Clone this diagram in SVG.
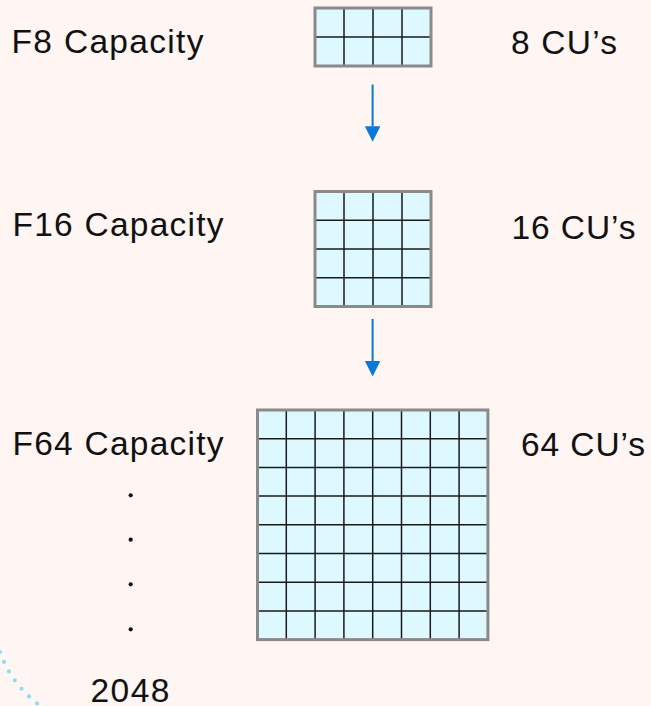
<svg xmlns="http://www.w3.org/2000/svg" width="651" height="706" viewBox="0 0 651 706">
  <style>
    .lbl { font-family: "Liberation Sans", Arial, sans-serif; font-size: 33.5px; fill: #111; }
    .cell { fill: #ddf9ff; }
    .inner { stroke: #1a1a1a; stroke-width: 1.5; fill: none; }
    .frame { stroke: #8a8a8a; stroke-width: 3; fill: none; }
    .arrow { stroke: #0a78d4; stroke-width: 2; fill: none; }
    .dot { fill: #111; }
  </style>
  <defs>
    <marker id="head" markerUnits="userSpaceOnUse" markerWidth="16" markerHeight="16" refX="0" refY="7.75" orient="auto">
      <path d="M0,0 L15.5,7.75 L0,15.5 z" fill="#0a78d4"/>
    </marker>
  </defs>

  <rect width="651" height="706" fill="#fff5f2"/>

  <!-- decorative dotted arc, bottom-left corner -->
  <path d="M 0 652 A 112 112 0 0 0 67 720" fill="none" stroke="#8fdcf2" stroke-width="4.2" stroke-linecap="round" stroke-dasharray="0 10.7"/>

  <!-- F8: 4 x 2 units -->
  <g id="f8">
    <text class="lbl" x="11.5" y="53" textLength="192" lengthAdjust="spacing">F8 Capacity</text>
    <rect class="cell" x="315" y="8" width="116" height="58"/>
    <path class="inner" d="M344,8V66 M373,8V66 M402,8V66 M315,37H431"/>
    <rect class="frame" x="315" y="8" width="116" height="58"/>
    <text class="lbl" x="511" y="54" textLength="106" lengthAdjust="spacing">8 CU’s</text>
  </g>

  <!-- F16: 4 x 4 units -->
  <g id="f16">
    <text class="lbl" x="12.5" y="236" textLength="211" lengthAdjust="spacing">F16 Capacity</text>
    <rect class="cell" x="315" y="191.5" width="116" height="115"/>
    <path class="inner" d="M344,191.5V306.5 M373,191.5V306.5 M402,191.5V306.5 M315,220.25H431 M315,249H431 M315,277.75H431"/>
    <rect class="frame" x="315" y="191.5" width="116" height="115"/>
    <text class="lbl" x="511.5" y="239" textLength="124" lengthAdjust="spacing">16 CU’s</text>
  </g>

  <!-- F64: 8 x 8 units -->
  <g id="f64">
    <text class="lbl" x="12.5" y="455" textLength="211" lengthAdjust="spacing">F64 Capacity</text>
    <rect class="cell" x="257.5" y="410" width="230.4" height="229.6"/>
    <path class="inner" d="M286.3,410V639.6 M315.1,410V639.6 M343.9,410V639.6 M372.7,410V639.6 M401.5,410V639.6 M430.3,410V639.6 M459.1,410V639.6 M257.5,438.7H487.9 M257.5,467.4H487.9 M257.5,496.1H487.9 M257.5,524.8H487.9 M257.5,553.5H487.9 M257.5,582.2H487.9 M257.5,610.9H487.9"/>
    <rect class="frame" x="257.5" y="410" width="230.4" height="229.6"/>
    <text class="lbl" x="521" y="455.5" textLength="124" lengthAdjust="spacing">64 CU’s</text>
  </g>

  <!-- continuation up to 2048 -->
  <g id="more">
    <circle class="dot" cx="130.7" cy="495.3" r="2.1"/>
    <circle class="dot" cx="130.7" cy="539.7" r="2.1"/>
    <circle class="dot" cx="130.7" cy="584.3" r="2.1"/>
    <circle class="dot" cx="130.7" cy="629.3" r="2.1"/>
    <text class="lbl" x="90.5" y="702" textLength="79" lengthAdjust="spacing">2048</text>
  </g>

  <g id="connectors">
    <line class="arrow" x1="372.6" y1="84.5" x2="372.6" y2="126.3" marker-end="url(#head)"/>
    <line class="arrow" x1="372.6" y1="319" x2="372.6" y2="361" marker-end="url(#head)"/>
  </g>
</svg>
